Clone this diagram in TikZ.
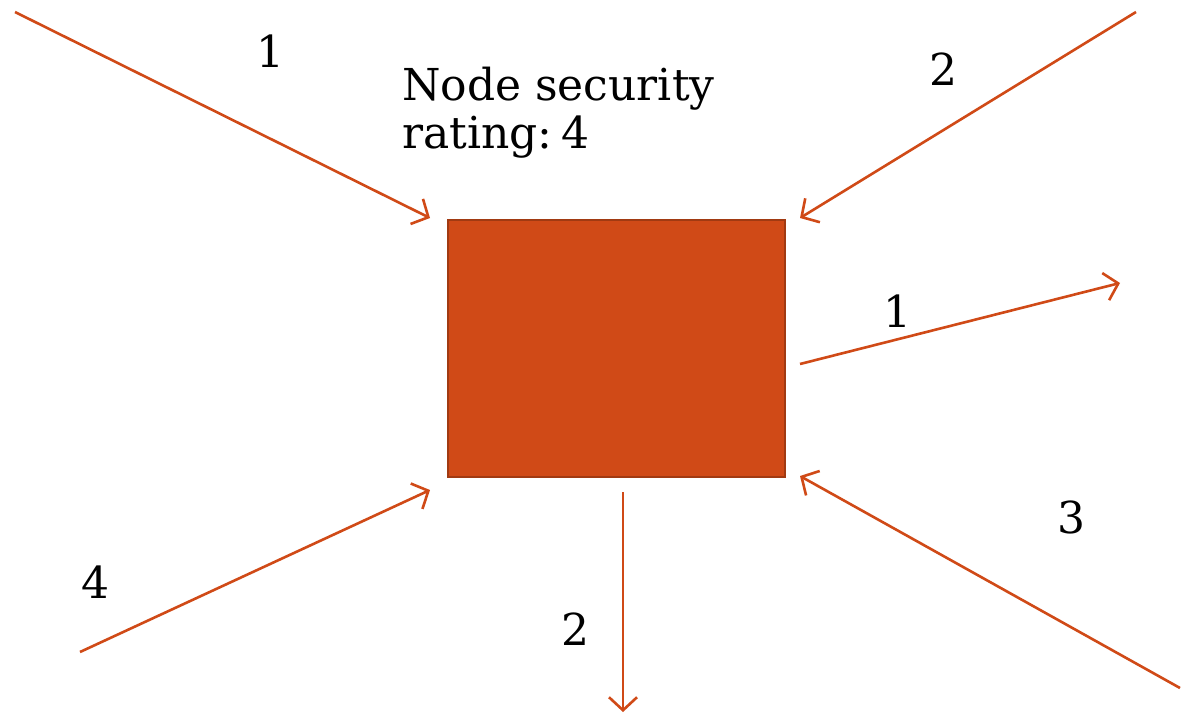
\documentclass[tikz,border=0pt]{standalone}
\usepackage{fontspec}
\setmainfont{DejaVu Serif}
\usetikzlibrary{arrows.meta,calc}
\definecolor{rust}{HTML}{D04A17}
\definecolor{rustdark}{HTML}{A13A12}
\tikzset{
  flow/.style={draw=rust, line width=2.6pt, -{Straight Barb[length=13pt,width=28pt,line width=2.6pt]}},
  weight/.style={font=\fontsize{44}{48}\selectfont, anchor=base, inner sep=0pt},
}
\begin{document}
\begin{tikzpicture}[x=1pt,y=-1pt]
  \useasboundingbox (0,0) rectangle (1181,713);
  % the node under assessment
  \node[draw=rustdark, fill=rust, line width=2pt, minimum width=337pt, minimum height=257pt,
        inner sep=0pt, anchor=north west] (box) at (447,219) {};
  \node[font=\fontsize{44}{48}\selectfont, align=left, anchor=base west, inner sep=0pt]
       (title) at (402,148) {Node security\\rating:\kern0.2em 4};
  % free ends of the connectors
  \coordinate (a1) at (15,12);    \coordinate (a1e) at (430,218);
  \coordinate (a2) at (1136,12);  \coordinate (a2e) at (800,218);
  \coordinate (a3) at (800,364);  \coordinate (a3e) at (1120,283);
  \coordinate (a4) at (1180,688); \coordinate (a4e) at (800,476);
  \coordinate (a5) at (623,492);  \coordinate (a5e) at (623,712);
  \coordinate (a6) at (80,652);   \coordinate (a6e) at (430,490);
  \draw[flow] (a1) -- (a1e);
  \draw[flow] (a2) -- (a2e);
  \draw[flow] (a3) -- (a3e);
  \draw[flow] (a4) -- (a4e);
  \draw[flow] (a5) -- (a5e);
  \draw[flow] (a6) -- (a6e);
  % weights on the connectors
  \node[weight] (w1) at (270,67) {1};
  \node[weight] (w2) at (943,85) {2};
  \node[weight] (w3) at (897,327) {1};
  \node[weight] (w4) at (1071,533) {3};
  \node[weight] (w5) at (575,645) {2};
  \node[weight] (w6) at (95,598) {4};
\end{tikzpicture}
\end{document}
